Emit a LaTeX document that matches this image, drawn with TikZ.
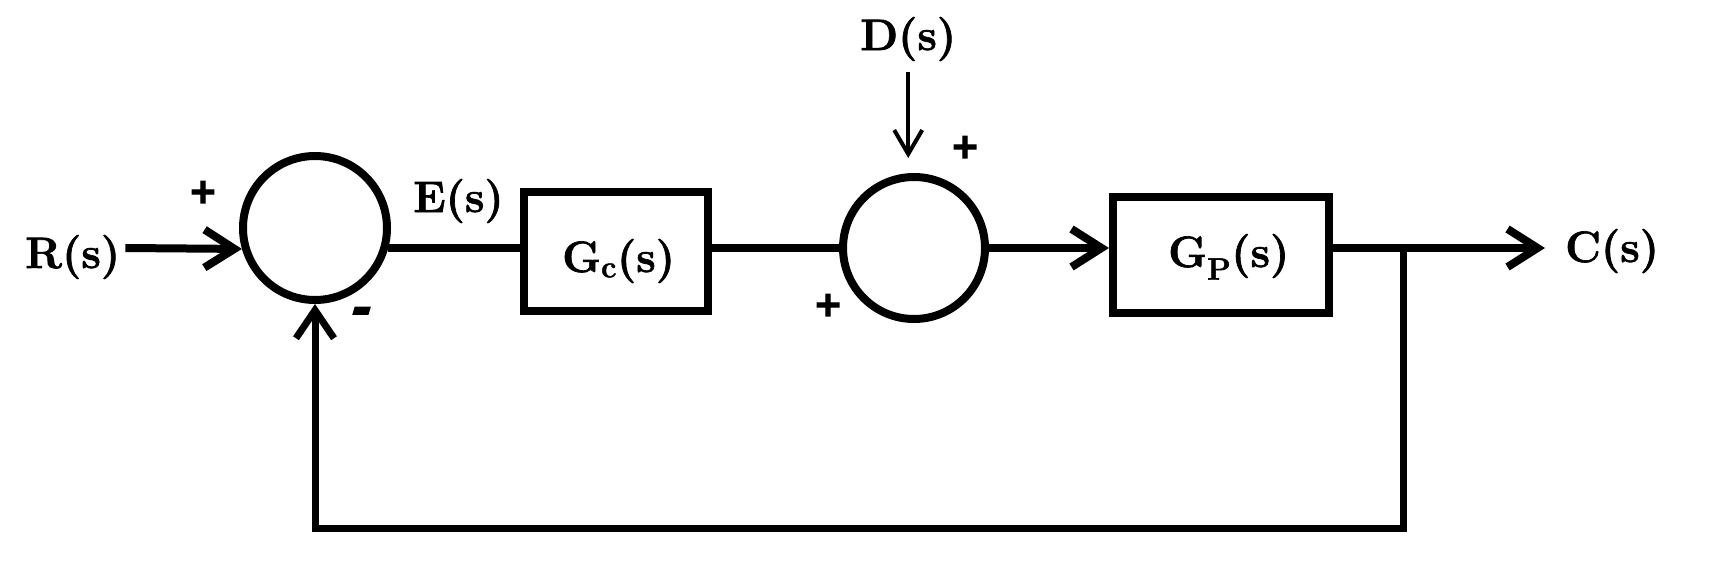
\documentclass[tikz,border=0pt]{standalone}
\usepackage{fontspec}
\newfontfamily\signfont{DejaVu Sans Bold}[FakeBold=3]
\newfontfamily\lblfont{Latin Modern Roman}[BoldFeatures={FakeBold=1.5}]
\usetikzlibrary{arrows.meta}
\begin{document}
\begin{tikzpicture}[x=1pt,y=-1pt,
  lbl/.style={font=\lblfont\fontsize{44}{48}\selectfont\bfseries, inner sep=0pt, anchor=base west},
  sgn/.style={font=\signfont\fontsize{35}{38}\selectfont, inner sep=0pt},
  msgn/.style={font=\signfont\fontsize{48}{50}\selectfont, inner sep=0pt, xslant=0.3},
  sumj/.style={circle, draw, line width=8pt, minimum size=144pt, inner sep=0pt},
  blk/.style={rectangle, draw, line width=8pt, inner sep=0pt},
  wire/.style={line width=8pt},
  harrow/.style={line width=8pt, -{Straight Barb[length=30pt,width=38pt]}},
  fbarrow/.style={line width=7pt, line join=miter, -{Straight Barb[length=28pt,width=38pt]}},
  darrow/.style={line width=4pt, -{Straight Barb[length=24pt,width=28pt]}}
]
\useasboundingbox (0,0) rectangle (1720,565);
\coordinate (m) at (0,248);

% junctions and blocks
\node[sumj] (sum1) at (315,228) {};
\node[sumj, minimum size=142pt] (sum2) at (914,248) {};
\node[blk, minimum width=184pt, minimum height=119pt] (Gc) at (616,251.5) {};
\node[blk, minimum width=216pt, minimum height=116pt] (Gp) at (1221,255) {};

% labels
\node[lbl] (R) at (25,268) {R(s)};
\node[lbl] (E) at (413,212) {E(s)};
\node[lbl] (Gct) at (562,272) {G\textsubscript{c}(s)};
\node[lbl] (Gpt) at (1168,267) {G\textsubscript{P}(s)};
\node[lbl] (D) at (860,50) {D(s)};
\node[lbl] (C) at (1565,262) {C(s)};

% signs
\node[sgn] (p1) at (203,192) {+};
\node[msgn] (m1) at (360,316) {-};
\node[sgn] (p2) at (965,147) {+};
\node[sgn] (p3) at (828,305) {+};

% connectors
\coordinate (ctip) at (1545,248);
\coordinate (fb) at (1403,248);
\coordinate (fbc) at (1403,528);
\draw[harrow] ([xshift=5pt]R.east |- m) -- (sum1.196);
\draw[wire] (sum1.-15) -- (Gc.west |- sum1.-15);
\draw[wire] (Gc.east |- m) -- (sum2.west);
\draw[harrow] (sum2.east) -- (Gp.west |- m);
\draw[harrow] (Gp.east |- m) -- (ctip);
\draw[darrow] ([yshift=-11pt]D.south) -- ([yshift=15pt]sum2.north -| D.south);
\draw[fbarrow] (fb) -- (fbc) -| (sum1.south);
\end{tikzpicture}
\end{document}
